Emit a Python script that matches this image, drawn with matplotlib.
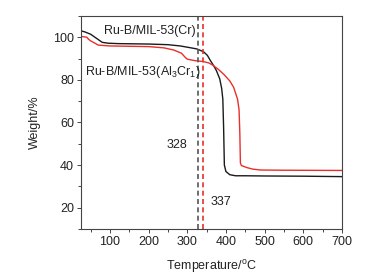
import matplotlib
matplotlib.use("Agg")
import matplotlib.pyplot as plt
from matplotlib.ticker import MultipleLocator

plt.rcParams['font.family'] = ['Liberation Sans', 'DejaVu Sans']
plt.rcParams['mathtext.fontset'] = 'custom'
plt.rcParams['mathtext.rm'] = 'Liberation Sans'
plt.rcParams['mathtext.it'] = 'Liberation Sans'

# Ru-B/MIL-53(Cr) (black)
cr_temp = [25, 35, 50, 65, 80, 95, 120, 200, 250, 282, 310, 325, 342, 352, 360, 367, 375, 384, 389, 392, 394, 396, 400, 410, 425, 450, 500, 600, 700]
cr_weight = [103.0, 102.5, 101.4, 99.5, 97.6, 97.2, 97.0, 96.8, 96.5, 95.9, 95.0, 94.5, 93.2, 91.5, 89.0, 87.0, 84.5, 80.5, 76.0, 71.0, 58.0, 40.0, 37.0, 35.5, 35.0, 35.0, 34.9, 34.8, 34.6]

# Ru-B/MIL-53(Al3Cr1) (red)
al_temp = [25, 40, 45, 50, 60, 70, 100, 200, 240, 265, 285, 295, 300, 320, 340, 355, 365, 380, 395, 410, 420, 430, 434, 436, 437.5, 440, 455, 470, 490, 550, 700]
al_weight = [100.4, 100.0, 99.0, 98.3, 97.3, 96.3, 95.9, 95.6, 95.0, 94.0, 92.5, 90.5, 89.7, 89.0, 88.6, 88.0, 87.0, 85.0, 82.5, 79.5, 76.5, 71.0, 66.0, 55.0, 41.0, 39.8, 38.8, 38.1, 37.7, 37.6, 37.5]

onset_pos = [329, 341]
onset_labels = ["328", "337"]
onset_colors = ["#555555", "#e8302a"]

FS = 9

fig = plt.figure(figsize=(3.68, 2.79), dpi=100)
ax = fig.add_axes([0.220, 0.179, 0.709, 0.764])

ax.plot(cr_temp, cr_weight, color='#1a1a1a', lw=1.0)
ax.plot(al_temp, al_weight, color='#e8302a', lw=1.0)
for p, c in zip(onset_pos, onset_colors):
    ax.axvline(p, color=c, lw=1.2, dashes=(3, 2))

ax.text(274, 49.3, onset_labels[0], fontsize=FS, color='#222222', ha='center', va='center')
ax.text(388, 22.7, onset_labels[1], fontsize=FS, color='#222222', ha='center', va='center')
ax.text(84, 102.7, 'Ru-B/MIL-53(Cr)', fontsize=FS, color='#222222', ha='left', va='center')
ax.text(36, 83.7, 'Ru-B/MIL-53(Al$_3$Cr$_1$)', fontsize=FS, color='#222222', ha='left', va='center')

ax.set_xlim(25, 700)
ax.set_ylim(10, 110)
ax.xaxis.set_major_locator(MultipleLocator(100))
ax.xaxis.set_minor_locator(MultipleLocator(50))
ax.yaxis.set_minor_locator(MultipleLocator(10))
ax.set_yticks([20, 40, 60, 80, 100])
ax.tick_params(which='major', direction='out', length=3, width=0.7, color='#444444', labelsize=FS, labelcolor='#222222', pad=2)
ax.tick_params(which='minor', direction='out', length=2, width=0.7, color='#444444')
ax.tick_params(top=False, right=False, which='both')
for s in ax.spines.values():
    s.set_color('#444444')
    s.set_linewidth(0.8)

ax.set_xlabel('Temperature/$^\\mathrm{o}$C', fontsize=FS, color='#222222', labelpad=7)
ax.set_ylabel('Weight/%', fontsize=FS, color='#222222', labelpad=9)

fig.savefig('out.png', dpi=100)
